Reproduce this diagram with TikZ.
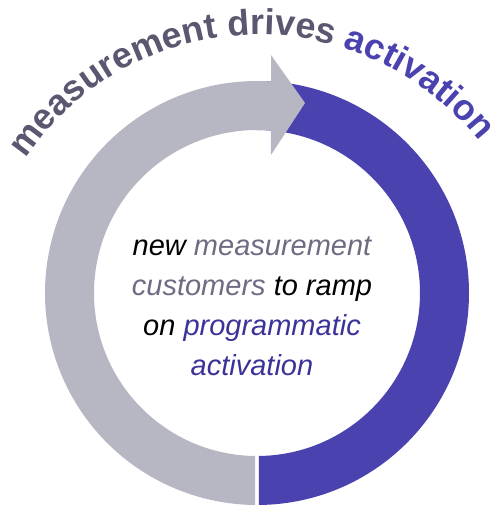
\documentclass[tikz,border=0pt]{standalone}
\usepackage{fontspec}
\setmainfont{Liberation Sans}
\usetikzlibrary{calc,decorations.text}
\definecolor{ringgray}{RGB}{183,183,196}
\definecolor{ringpurple}{RGB}{74,66,174}
\definecolor{titlegray}{RGB}{91,87,112}
\definecolor{midgray}{RGB}{110,107,130}
\definecolor{midpurple}{RGB}{58,51,152}
\newcommand\arcfnt{\fontsize{36}{36}\selectfont\bfseries}
\tikzset{
  ringpart/.style={draw=none},
  centerline/.style={anchor=base, inner sep=0pt, font=\fontsize{29}{40}\selectfont\itshape}
}
\begin{document}
\begin{tikzpicture}[x=1pt,y=1pt]
\useasboundingbox (0,0) rectangle (499,-506);
\coordinate (C) at (257,-293);
\coordinate (T) at (258.6,-315.7);
% purple part
\fill[ringpart, ringpurple] ($(C)+(90:212)$) arc[start angle=90, end angle=-89.46, radius=212]
  -- ($(C)+(-89.3:163)$) arc[start angle=-89.3, end angle=90, radius=163] -- cycle;
% gray arrow
\fill[ringpart, ringgray] ($(C)+(86.2:212)$) arc[start angle=86.2, end angle=269.46, radius=212]
  -- ($(C)+(269.3:163)$) arc[start angle=269.3, end angle=85.1, radius=163]
  -- (271,-155) -- (305,-103) -- (271,-55) -- cycle;
% curved title
\path[decorate, decoration={text along path, text align=center,
  text={|\arcfnt\color{titlegray}|measurement drives |\arcfnt\color{ringpurple}|activation}}]
  ($(T)+(146.3:281)$) arc[start angle=146.3, end angle=38, radius=281];
% center text
\node[centerline] (t1) at (252,-255) {new \textcolor{midgray}{measurement}};
\node[centerline] (t2) at (252,-295) {\textcolor{midgray}{customers} to ramp};
\node[centerline] (t3) at (252,-335) {on \textcolor{midpurple}{programmatic}};
\node[centerline] (t4) at (252,-375) {\textcolor{midpurple}{activation}};
\end{tikzpicture}
\end{document}
